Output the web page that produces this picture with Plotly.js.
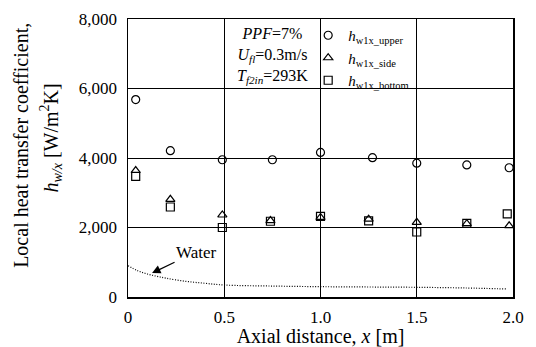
<!DOCTYPE html>
<html>
<head>
<meta charset="utf-8">
<script src="https://cdn.plot.ly/plotly-3.0.1.min.js"></script>
<style>html,body{margin:0;padding:0;background:#fff;}#chart{width:536px;height:347px;}</style>
</head>
<body>
<div id="chart"></div>
<script>
// Data
var xUpper = [0.04, 0.22, 0.49, 0.75, 1.0, 1.27, 1.5, 1.76, 1.98];
var hUpper = [5680, 4210, 3950, 3950, 4160, 4010, 3850, 3800, 3720];
var xSide = [0.04, 0.22, 0.49, 0.74, 1.0, 1.25, 1.5, 1.76, 1.98];
var hSide = [3640, 2810, 2360, 2200, 2290, 2240, 2150, 2110, 2050];
var xBottom = [0.04, 0.22, 0.49, 0.74, 1.0, 1.25, 1.5, 1.76, 1.97];
var hBottom = [3470, 2590, 2000, 2180, 2320, 2190, 1870, 2120, 2390];
var xWater = [0, 0.05, 0.1, 0.15, 0.2, 0.3, 0.4, 0.5, 0.75, 1.0, 1.25, 1.5, 1.75, 1.97];
var hWater = [900, 757, 662, 596, 538, 451, 394, 345, 315, 297, 288, 279, 260, 230];
var xTickVals = [0, 0.5, 1.0, 1.5, 2.0];
var xTickText = ["0", "0.5", "1.0", "1.5", "2.0"];
var yTickVals = [0, 2000, 4000, 6000, 8000];
var yTickText = ["0", "2,000", "4,000", "6,000", "8,000"];

var FONT = "'Liberation Serif', 'Times New Roman', serif";
var mk = function (sym) {
  return {symbol: sym, size: 8, color: "#000", line: {color: "#000", width: 1.2}};
};

var traces = [
  {x: xUpper, y: hUpper, type: "scatter", mode: "markers", name: "<i>h</i><sub>w1x_upper</sub>", marker: mk("circle-open")},
  {x: xSide, y: hSide, type: "scatter", mode: "markers", name: "<i>h</i><sub>w1x_side</sub>", marker: mk("triangle-up-open")},
  {x: xBottom, y: hBottom, type: "scatter", mode: "markers", name: "<i>h</i><sub>w1x_bottom</sub>", marker: mk("square-open")},
  {x: xWater, y: hWater, type: "scatter", mode: "lines", name: "Water", showlegend: false, line: {color: "#000", width: 1.2, dash: "1px,1.6px", shape: "spline"}}
];

var layout = {
  width: 536, height: 347,
  margin: {l: 128, r: 23, t: 19, b: 50},
  paper_bgcolor: "#fff", plot_bgcolor: "#fff",
  font: {family: FONT, color: "#000", size: 17},
  showlegend: true,
  legend: {
    x: 0.468, y: 1, xanchor: "left", yanchor: "top",
    bgcolor: "rgba(0,0,0,0)", borderwidth: 0,
    font: {family: FONT, size: 15, color: "#000"},
    tracegroupgap: 0, itemwidth: 30
  },
  xaxis: {
    range: [0, 2.0], tickvals: xTickVals, ticktext: xTickText,
    showgrid: true, gridcolor: "#000", gridwidth: 1,
    showline: true, linecolor: "#000", linewidth: 1.5, mirror: true,
    zeroline: false, ticks: "", ticklabelstandoff: 4,
    tickfont: {family: FONT, size: 17, color: "#000"},
    title: {text: "Axial distance, <i>x</i> [m]", font: {family: FONT, size: 20, color: "#000"}, standoff: 6}
  },
  yaxis: {
    range: [0, 8000], tickvals: yTickVals, ticktext: yTickText,
    showgrid: true, gridcolor: "#000", gridwidth: 1,
    showline: true, linecolor: "#000", linewidth: 1.5, mirror: true,
    zeroline: false, ticks: "", ticklabelstandoff: 6,
    tickfont: {family: FONT, size: 17, color: "#000"}
  },
  annotations: [
    {xref: "x", yref: "y", x: 0.75, y: 6950, showarrow: false,
     text: "<i>PPF</i>=7%<br><i>U<sub>fl</sub></i>=0.3m/s<br><i>T<sub>f2in</sub></i>=293K",
     font: {family: FONT, size: 16, color: "#000"}, align: "center", bgcolor: "rgba(0,0,0,0)"},
    {xref: "x", yref: "y", x: 0.125, y: 690, ax: 44, ay: -21, showarrow: true,
     text: "Water", font: {family: FONT, size: 17, color: "#000"},
     arrowhead: 2, arrowsize: 1.3, arrowwidth: 1.3, arrowcolor: "#000", standoff: 0},
    {xref: "paper", yref: "paper", x: -0.277, y: 0.545, xanchor: "center", yanchor: "middle",
     showarrow: false, textangle: -90, text: "Local heat transfer coefficient,",
     font: {family: FONT, size: 20, color: "#000"}},
    {xref: "paper", yref: "paper", x: -0.2, y: 0.57, xanchor: "center", yanchor: "middle",
     showarrow: false, textangle: -90, text: "<i>h<sub>w/x</sub></i> [W/m<sup>2</sup>K]",
     font: {family: FONT, size: 20, color: "#000"}}
  ]
};

Plotly.newPlot("chart", traces, layout, {displayModeBar: false, staticPlot: true});
</script>
</body>
</html>
